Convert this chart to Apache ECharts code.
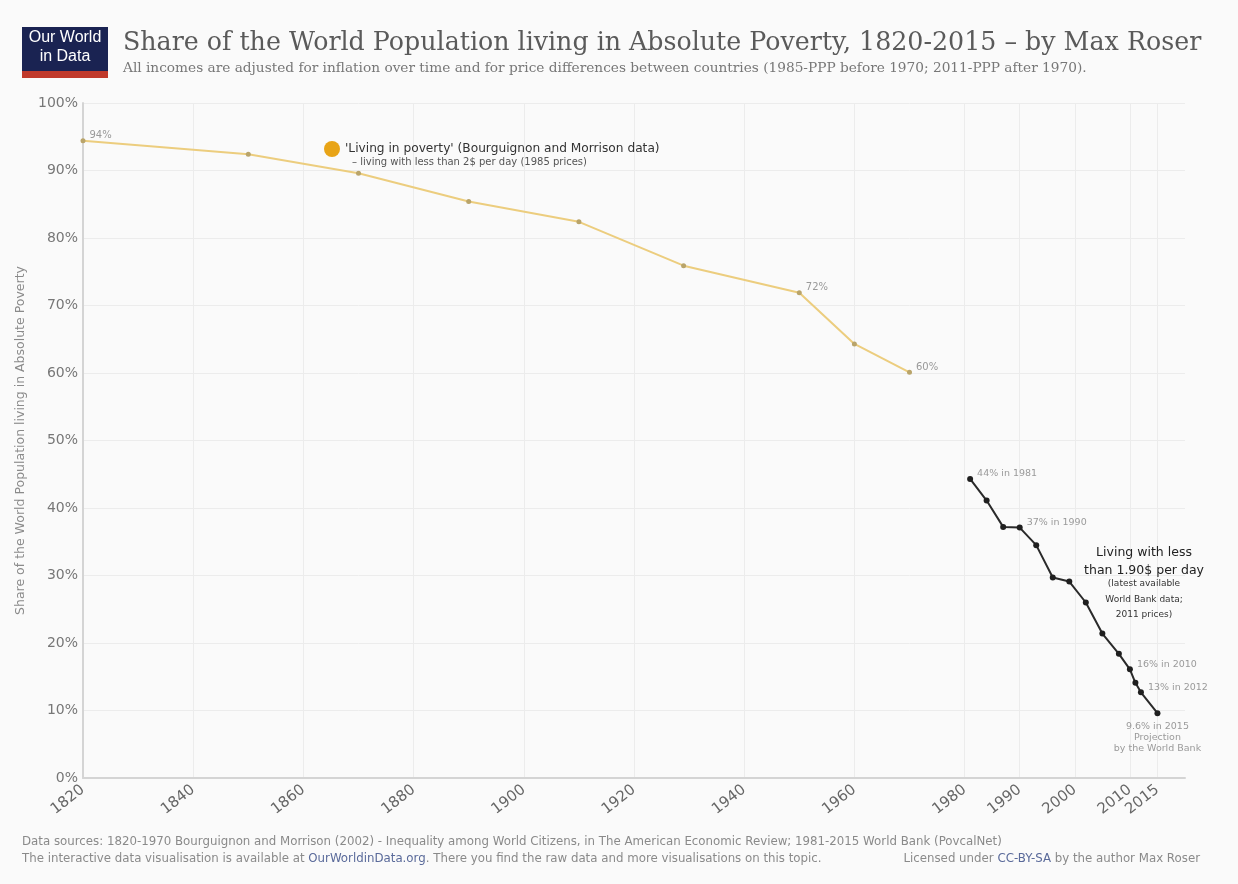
<!DOCTYPE html>
<html>
<head>
<meta charset="utf-8">
<script src="https://cdn.jsdelivr.net/npm/echarts@6/dist/echarts.min.js"></script>
<style>
html,body{margin:0;padding:0;background:#fafafa;}
#chart{width:1238px;height:884px;}
</style>
</head>
<body>
<div id="chart"></div>
<script>
// ---- Data ----
const bmYears = [1820, 1850, 1870, 1890, 1910, 1929, 1950, 1960, 1970];
const bmValues = [94.4, 92.4, 89.6, 85.4, 82.4, 75.9, 71.9, 64.3, 60.1];
const bmLabels = ['94%', '', '', '', '', '', '72%', '', '60%'];

const wbYears = [1981, 1984, 1987, 1990, 1993, 1996, 1999, 2002, 2005, 2008, 2010, 2011, 2012, 2015];
const wbValues = [44.3, 41.1, 37.2, 37.1, 34.5, 29.7, 29.1, 26.0, 21.4, 18.4, 16.1, 14.1, 12.7, 9.6];
const wbLabels = ['44% in 1981', '', '', '37% in 1990', '', '', '', '', '', '', '16% in 2010', '', '13% in 2012', '9.6% in 2015\nProjection\nby the World Bank'];

const xTickValues = [1820, 1840, 1860, 1880, 1900, 1920, 1940, 1960, 1980, 1990, 2000, 2010, 2015];

const titleText = 'Share of the World Population living in Absolute Poverty, 1820-2015 \u2013 by Max Roser';
const subtitleText = 'All incomes are adjusted for inflation over time and for price differences between countries (1985-PPP before 1970; 2011-PPP after 1970).';
const legendName = "'Living in poverty' (Bourguignon and Morrison data)";
const legendSub = '\u2013 living with less than 2$ per day (1985 prices)';
const wbNote1 = 'Living with less\nthan 1.90$ per day';
const wbNote2 = '(latest available\nWorld Bank data;\n2011 prices)';
const yAxisName = 'Share of the World Population living in Absolute Poverty';
const footer1 = 'Data sources: 1820-1970 Bourguignon and Morrison (2002) - Inequality among World Citizens, in The American Economic Review; 1981-2015 World Bank (PovcalNet)';
const footer2a = 'The interactive data visualisation is available at ';
const footer2b = 'OurWorldinData.org';
const footer2c = '. There you find the raw data and more visualisations on this topic.';
const footer3a = 'Licensed under ';
const footer3b = 'CC-BY-SA';
const footer3c = ' by the author Max Roser';

const SANS = '"DejaVu Sans", "Liberation Sans", sans-serif';

// ---- Build series data ----
const bmData = bmYears.map((y, i) => {
  const d = { value: [y, bmValues[i]] };
  if (bmLabels[i]) d.label = { show: true, formatter: bmLabels[i], position: 'right', distance: 4, offset: [0, -5] };
  return d;
});
const wbData = wbYears.map((y, i) => {
  const d = { value: [y, wbValues[i]] };
  if (wbLabels[i]) {
    const last = i === wbYears.length - 1;
    d.label = last
      ? { show: true, formatter: wbLabels[i], position: 'bottom', distance: 5, align: 'center', lineHeight: 11 }
      : { show: true, formatter: wbLabels[i], position: 'right', distance: 4, offset: [0, -5] };
  }
  return d;
});

const chart = echarts.init(document.getElementById('chart'));
chart.setOption({
  backgroundColor: '#fafafa',
  animation: false,
  title: {
    text: titleText,
    subtext: subtitleText,
    left: 118,
    top: 26,
    itemGap: 5,
    textStyle: { fontFamily: 'DejaVu Serif', fontSize: 25.3, fontWeight: 'normal', color: '#5a5a5a' },
    subtextStyle: { fontFamily: 'DejaVu Serif', fontSize: 13.7, color: '#777' }
  },
  legend: {
    left: 319,
    top: 136,
    icon: 'circle',
    itemWidth: 16,
    itemHeight: 16,
    itemGap: 6,
    data: [{ name: legendName, itemStyle: { color: '#e8a417' } }],
    textStyle: { fontFamily: SANS, fontSize: 12.2, color: '#333' },
    selectedMode: false
  },
  grid: { left: 83, right: 53, top: 103, bottom: 106 },
  xAxis: {
    type: 'value',
    min: 1820,
    max: 2020,
    interval: 10,
    axisLine: { show: true, lineStyle: { color: '#d4d4d4', width: 2 } },
    axisTick: { show: false, customValues: xTickValues },
    axisLabel: {
      customValues: xTickValues,
      rotate: 38,
      margin: 10,
      fontFamily: SANS,
      fontSize: 15,
      color: '#666',
      formatter: v => String(v)
    },
    splitLine: { show: true, lineStyle: { color: '#ececec', width: 1 } }
  },
  yAxis: {
    type: 'value',
    min: 0,
    max: 100,
    interval: 10,
    name: yAxisName,
    nameLocation: 'middle',
    nameGap: 44,
    nameTextStyle: { fontFamily: SANS, fontSize: 12.5, color: '#8a8a8a' },
    axisLine: { show: true, lineStyle: { color: '#d4d4d4', width: 2 } },
    axisTick: { show: false },
    axisLabel: {
      formatter: '{value}%',
      fontFamily: SANS,
      fontSize: 14,
      color: '#777',
      margin: 5
    },
    splitLine: { show: true, lineStyle: { color: '#ececec', width: 1 } }
  },
  series: [
    {
      name: legendName,
      type: 'line',
      data: bmData,
      symbol: 'circle',
      symbolSize: 5,
      lineStyle: { color: '#eccd7e', width: 2 },
      itemStyle: { color: '#b9a46a' },
      label: { fontFamily: SANS, fontSize: 10, color: '#999' },
      z: 3
    },
    {
      name: 'World Bank',
      type: 'line',
      data: wbData,
      symbol: 'circle',
      symbolSize: 6,
      lineStyle: { color: '#2a2a2a', width: 2 },
      itemStyle: { color: '#1f1f1f' },
      label: { fontFamily: SANS, fontSize: 9.5, color: '#9a9a9a' },
      z: 3
    }
  ],
  graphic: [
    // logo
    { type: 'rect', left: 22, top: 27, z: 100, shape: { width: 86, height: 51 }, style: { fill: '#1a2352' } },
    { type: 'rect', left: 22, top: 71, z: 101, shape: { width: 86, height: 7 }, style: { fill: '#c0392b' } },
    { type: 'text', x: 65, y: 30, z: 102, style: { text: 'Our World', fill: '#fff', font: '16px "Liberation Sans Narrow", "Liberation Sans"', align: 'center', verticalAlign: 'top' } },
    { type: 'text', x: 65, y: 49, z: 102, style: { text: 'in Data', fill: '#fff', font: '16px "Liberation Sans Narrow", "Liberation Sans"', align: 'center', verticalAlign: 'top' } },
    // legend second line
    { type: 'text', x: 352, y: 157, z: 100, style: { text: legendSub, fill: '#555', font: '10px ' + SANS, verticalAlign: 'top' } },
    // World Bank annotation
    { type: 'text', x: 1144, y: 544, z: 100, style: { text: wbNote1, fill: '#222', font: '12.5px ' + SANS, align: 'center', verticalAlign: 'top', lineHeight: 18 } },
    { type: 'text', x: 1144, y: 576, z: 100, style: { text: wbNote2, fill: '#333', font: '9px ' + SANS, align: 'center', verticalAlign: 'top', lineHeight: 15.5 } },
    // footer
    { type: 'text', x: 22, y: 836, z: 100, style: { text: footer1, fill: '#8a8a8a', font: '11.8px ' + SANS, verticalAlign: 'top' } },
    { type: 'text', x: 22, y: 853, z: 100, style: {
        text: '{a|' + footer2a + '}{b|' + footer2b + '}{a|' + footer2c + '}',
        verticalAlign: 'top',
        rich: { a: { fill: '#8a8a8a', font: '11.8px ' + SANS }, b: { fill: '#5a6a9a', font: '11.8px ' + SANS } }
      } },
    { type: 'text', x: 1200, y: 853, z: 100, style: {
        text: '{a|' + footer3a + '}{b|' + footer3b + '}{a|' + footer3c + '}',
        align: 'right',
        verticalAlign: 'top',
        rich: { a: { fill: '#8a8a8a', font: '11.8px ' + SANS }, b: { fill: '#5a6a9a', font: '11.8px ' + SANS } }
      } }
  ]
});
</script>
</body>
</html>
